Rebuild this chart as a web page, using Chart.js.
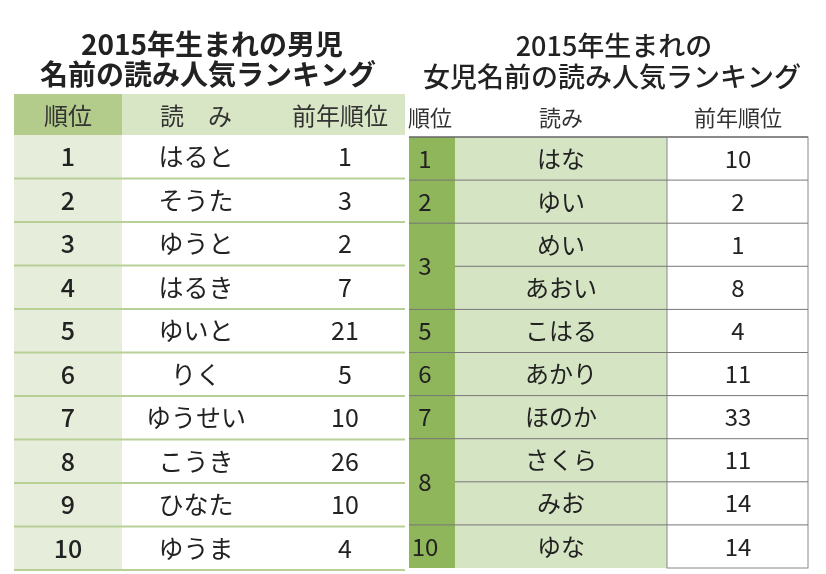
<!DOCTYPE html>
<html><head><meta charset="utf-8">
<script src="https://cdn.jsdelivr.net/npm/chart.js@4"></script>
<style>html,body{margin:0;padding:0;background:#fff}#c{display:block}</style>
</head><body>
<div style="width:826px;height:574px"><canvas id="c"></canvas></div>
<script>
const boyTitle = ['2015年生まれの男児', '名前の読み人気ランキング'];
const boyHeaders = ['順位', '読　み', '前年順位'];
const boyRanks = [1, 2, 3, 4, 5, 6, 7, 8, 9, 10];
const boyNames = ['はると', 'そうた', 'ゆうと', 'はるき', 'ゆいと', 'りく', 'ゆうせい', 'こうき', 'ひなた', 'ゆうま'];
const boyPrev = [1, 3, 2, 7, 21, 5, 10, 26, 10, 4];

const girlTitle = ['2015年生まれの', '女児名前の読み人気ランキング'];
const girlHeaders = ['順位', '読み', '前年順位'];
const girlRanks = [1, 2, 3, 3, 5, 6, 7, 8, 8, 10];
const girlNames = ['はな', 'ゆい', 'めい', 'あおい', 'こはる', 'あかり', 'ほのか', 'さくら', 'みお', 'ゆな'];
const girlPrev = [10, 2, 1, 8, 4, 11, 33, 11, 14, 14];

const FONT = '"Noto Sans CJK JP", "Noto Sans", sans-serif';

const tablePlugin = {
  id: 'tables',
  afterDraw(chart) {
    const ctx = chart.ctx, X = chart.scales.x, Y = chart.scales.y;
    const px = v => X.getPixelForValue(v), py = v => Y.getPixelForValue(v);
    ctx.save();
    ctx.textAlign = 'center'; ctx.textBaseline = 'middle';
    // titles
    ctx.fillStyle = '#222';
    ctx.font = 'bold 28px ' + FONT;
    ctx.fillText(boyTitle[0], px(212), py(44));
    ctx.fillText(boyTitle[1], px(208), py(74));
    ctx.font = '500 27px ' + FONT;
    ctx.fillText(girlTitle[0], px(614), py(46));
    ctx.fillText(girlTitle[1], px(612), py(77));

    // boys table
    const bx = [14, 122, 272, 405];
    const bTop = 94, bHead = 135, bRow = 43.5;
    ctx.fillStyle = '#d9e6c6'; ctx.fillRect(px(bx[0]), py(bTop), px(bx[3]) - px(bx[0]), py(bHead) - py(bTop));
    ctx.fillStyle = '#b3cc8c'; ctx.fillRect(px(bx[0]), py(bTop), px(bx[1]) - px(bx[0]), py(bHead) - py(bTop));
    ctx.fillStyle = '#e6eedb'; ctx.fillRect(px(bx[0]), py(bHead), px(bx[1]) - px(bx[0]), py(bHead + bRow * boyRanks.length) - py(bHead));
    ctx.font = '24px ' + FONT; ctx.fillStyle = '#333';
    ctx.fillText(boyHeaders[0], px(68), py(116));
    ctx.fillText(boyHeaders[1], px(196), py(116));
    ctx.fillText(boyHeaders[2], px(340), py(116));
    ctx.strokeStyle = '#b8d096'; ctx.lineWidth = 2;
    boyRanks.forEach((r, i) => {
      const y0 = bHead + i * bRow, yc = y0 + bRow / 2;
      ctx.fillStyle = '#222';
      ctx.font = '500 25px ' + FONT;
      ctx.fillText(String(r), px(68), py(yc));
      ctx.font = '25px ' + FONT;
      ctx.fillText(boyNames[i], px(196), py(yc));
      ctx.fillText(String(boyPrev[i]), px(345), py(yc));
      ctx.beginPath(); ctx.moveTo(px(bx[0]), py(y0 + bRow)); ctx.lineTo(px(bx[3]), py(y0 + bRow)); ctx.stroke();
    });

    // girls table
    const gx = [409, 455, 667, 808];
    const gHead = 137, gRow = 43.1, gBottom = gHead + gRow * girlNames.length;
    ctx.font = '22px ' + FONT; ctx.fillStyle = '#333';
    ctx.fillText(girlHeaders[0], px(430), py(118));
    ctx.fillText(girlHeaders[1], px(561), py(118));
    ctx.fillText(girlHeaders[2], px(738), py(118));
    ctx.fillStyle = '#8fb65a'; ctx.fillRect(px(gx[0]), py(gHead), px(gx[1]) - px(gx[0]), py(gBottom) - py(gHead));
    ctx.fillStyle = '#d5e4c2'; ctx.fillRect(px(gx[1]), py(gHead), px(gx[2]) - px(gx[1]), py(gBottom) - py(gHead));
    ctx.strokeStyle = '#666'; ctx.lineWidth = 1.5;
    ctx.beginPath(); ctx.moveTo(px(gx[0]), py(gHead)); ctx.lineTo(px(gx[3]), py(gHead)); ctx.stroke();
    ctx.strokeStyle = '#888'; ctx.lineWidth = 1;
    ctx.strokeRect(px(gx[2]), py(gHead), px(gx[3]) - px(gx[2]), py(gBottom) - py(gHead));
    girlNames.forEach((n, i) => {
      const y0 = gHead + i * gRow, yc = y0 + gRow / 2;
      const same = i + 1 < girlRanks.length && girlRanks[i + 1] === girlRanks[i];
      const prevSame = i > 0 && girlRanks[i - 1] === girlRanks[i];
      ctx.fillStyle = '#222'; ctx.font = '24px ' + FONT;
      if (!prevSame) ctx.fillText(String(girlRanks[i]), px(425), py(same ? y0 + gRow : yc));
      ctx.fillText(n, px(561), py(yc));
      ctx.fillText(String(girlPrev[i]), px(738), py(yc));
      if (i < girlNames.length - 1) {
        ctx.strokeStyle = '#777';
        ctx.beginPath(); ctx.moveTo(px(same ? gx[1] : gx[0]), py(y0 + gRow)); ctx.lineTo(px(gx[3]), py(y0 + gRow)); ctx.stroke();
      }
    });
    ctx.restore();
  }
};

new Chart(document.getElementById('c'), {
  type: 'scatter',
  data: { datasets: [{ data: [] }] },
  options: {
    responsive: true, maintainAspectRatio: false, animation: false,
    layout: { padding: 0 },
    plugins: { legend: { display: false }, tooltip: { enabled: false } },
    scales: {
      x: { type: 'linear', min: 0, max: 826, display: false },
      y: { type: 'linear', min: 0, max: 574, reverse: true, display: false }
    }
  },
  plugins: [tablePlugin]
});
</script>
</body></html>
